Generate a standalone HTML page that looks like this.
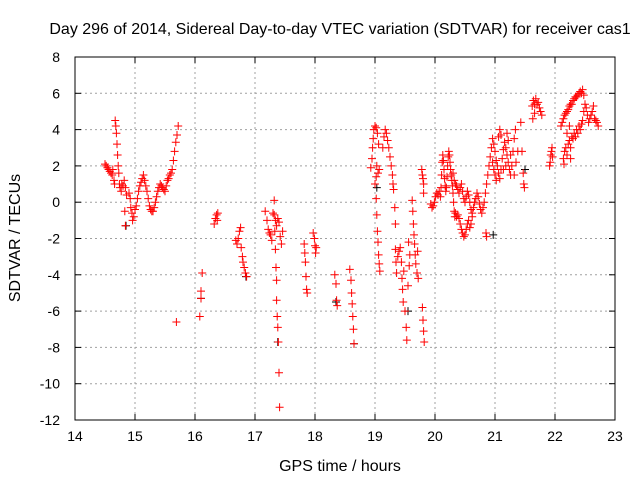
<!DOCTYPE html>
<html><head><meta charset="utf-8"><style>
body{margin:0;background:#fff}
svg{display:block;font-family:"Liberation Sans",sans-serif}
</style></head><body>
<svg id="chart" width="640" height="480">
<rect width="640" height="480" fill="#fff"/>
<text x="340" y="34" text-anchor="middle" font-size="16">Day 296 of 2014, Sidereal Day-to-day VTEC variation (SDTVAR) for receiver cas1</text>
<text x="340" y="471" text-anchor="middle" font-size="16">GPS time / hours</text>
<text transform="translate(20,238) rotate(-90)" text-anchor="middle" font-size="16">SDTVAR / TECUs</text>
<g id="grid"></g><g id="ticks"></g><g id="marks"></g>
<rect x="75" y="57" width="540" height="363" fill="none" stroke="#000" stroke-width="1"/>
</svg>
<script>
const xTicks=[14,15,16,17,18,19,20,21,22,23];
const yTicks=[8,6,4,2,0,-2,-4,-6,-8,-10,-12];
const redT=[14.50,14.52,14.54,14.56,14.58,14.60,14.62,14.63,14.65,14.66,14.67,14.68,14.69,14.70,14.71,14.72,14.73,14.74,14.75,14.77,14.78,14.80,14.82,14.84,14.86,14.83,14.84,14.90,14.92,14.93,14.95,14.96,14.98,15.00,15.02,15.04,15.06,15.08,15.10,15.12,15.14,15.16,15.18,15.20,15.22,15.24,15.26,15.28,15.30,15.32,15.34,15.36,15.38,15.40,15.42,15.44,15.46,15.48,15.50,15.52,15.54,15.56,15.58,15.60,15.62,15.64,15.66,15.68,15.70,15.72,15.69,
16.08,16.10,16.10,16.12,16.32,16.34,16.36,16.37,16.38,
16.68,16.70,16.72,16.74,16.76,16.77,16.79,16.80,16.82,16.84,16.86,
17.17,17.20,17.22,17.24,17.26,17.28,17.30,17.32,17.34,17.36,17.38,17.40,17.42,17.44,17.46,17.32,17.33,17.34,17.35,17.36,17.36,17.37,17.38,17.39,17.40,17.41,
17.82,17.83,17.84,17.85,17.86,17.87,17.97,17.99,18.00,18.01,18.02,
18.33,18.35,18.36,18.37,18.58,18.60,18.61,18.62,18.63,18.64,18.65,
18.93,18.95,18.96,18.97,18.98,19.00,19.02,19.04,19.06,19.03,19.05,19.07,19.02,19.00,19.02,19.03,19.04,19.05,19.06,19.07,19.08,
19.13,19.15,19.17,19.19,19.21,19.23,19.25,19.27,19.29,19.30,19.31,19.33,19.34,19.34,19.35,19.36,
19.38,19.40,19.42,19.44,19.45,19.46,19.47,19.48,19.50,19.52,19.53,19.55,19.57,19.58,19.56,
19.62,19.63,19.64,19.65,19.66,19.67,19.68,19.70,19.71,19.72,
19.78,19.79,19.80,19.81,19.81,19.79,19.80,19.81,19.82,
19.93,19.95,19.97,19.99,20.01,20.03,20.05,20.07,20.09,20.10,20.11,20.12,20.13,20.14,20.15,20.16,20.17,20.18,20.19,20.20,20.21,20.22,20.23,20.24,20.25,20.26,20.27,20.28,20.29,20.30,20.31,20.32,20.33,20.34,20.36,20.38,20.40,20.42,20.44,20.46,20.48,20.50,20.52,20.54,
20.30,20.32,20.34,20.36,20.38,20.40,20.42,20.44,20.46,20.48,20.50,20.52,20.54,20.56,20.58,20.60,20.62,20.56,20.58,20.60,20.62,20.64,20.66,20.68,20.70,20.72,20.74,20.76,20.78,20.80,20.82,20.84,20.86,20.88,20.90,20.92,20.94,20.96,20.98,21.00,21.02,21.04,21.06,21.08,21.10,21.12,21.14,21.16,21.18,21.20,21.22,21.24,21.26,21.28,21.30,21.32,21.34,21.00,21.02,20.98,20.96,21.06,21.08,21.10,21.14,21.18,21.20,21.22,21.26,20.85,20.86,21.32,21.35,21.38,21.43,21.45,21.47,21.48,21.49,
21.62,21.64,21.66,21.68,21.70,21.72,21.74,21.76,21.78,21.66,21.63,
21.91,21.92,21.93,21.94,21.95,21.96,
22.10,22.12,22.14,22.16,22.18,22.20,22.22,22.24,22.26,22.28,22.30,22.32,22.34,22.36,22.38,22.40,22.42,22.44,22.46,22.48,
22.14,22.15,22.16,22.18,22.20,22.22,22.24,22.26,22.28,22.30,22.32,22.34,22.36,22.38,22.40,22.42,22.44,22.46,22.48,22.50,22.52,22.54,22.56,22.58,22.60,22.62,22.64,22.66,22.68,22.70,22.72,22.20,22.24,22.26];
const redV=[2.1,2.0,1.9,1.8,1.7,1.6,1.5,1.8,1.2,1.0,4.5,4.2,3.8,3.2,2.6,2.0,1.6,1.0,0.8,0.6,1.0,0.9,1.2,0.8,0.4,-0.5,-1.3,0.5,0.2,-0.3,-0.6,-1.0,-0.8,-0.4,-0.2,0.2,0.6,0.9,1.1,1.3,1.5,1.2,0.9,0.6,0.2,-0.2,-0.4,-0.5,-0.5,-0.3,0.0,0.3,0.6,0.8,1.0,0.9,0.8,0.7,0.6,0.9,1.2,1.3,1.5,1.6,1.8,2.3,2.8,3.3,3.7,4.2,-6.6,
-6.3,-5.3,-4.9,-3.9,-1.2,-0.9,-0.7,-1.0,-0.6,
-2.1,-2.3,-2.0,-1.6,-1.4,-2.5,-3.0,-3.3,-3.6,-3.9,-4.1,
-0.5,-1.0,-1.5,-1.7,-1.8,-2.1,-0.6,-0.7,-1.0,-1.3,-0.9,-1.1,-1.9,-2.3,-1.6,0.1,-1.6,-2.6,-3.6,-4.3,-5.4,-6.3,-6.9,-7.7,-9.4,-11.3,
-2.3,-2.8,-3.3,-4.1,-4.8,-5.0,-1.7,-2.0,-2.4,-2.8,-2.5,
-4.0,-4.5,-5.4,-5.7,-3.7,-4.3,-5.0,-5.6,-6.3,-7.0,-7.8,
1.9,2.4,3.0,3.5,4.0,4.2,4.1,3.8,3.2,2.0,1.6,1.8,1.4,1.0,0.2,-0.7,-1.6,-2.2,-2.9,-3.4,-3.8,
3.0,3.6,4.0,3.8,3.4,3.0,2.5,2.0,1.5,1.0,0.7,-0.3,-1.2,-2.6,-3.3,-3.9,
-3.0,-2.7,-2.5,-3.3,-4.2,-4.8,-5.5,-3.8,-6.0,-6.9,-7.6,-4.6,-3.5,-2.9,-2.2,
0.1,-0.5,-1.2,-1.8,-2.3,-2.9,-3.4,-3.9,-2.7,-4.2,
1.8,1.5,1.3,1.0,0.5,-5.8,-6.5,-7.1,-7.7,
-0.1,-0.3,-0.2,0.0,0.3,0.5,0.4,0.6,0.3,0.8,1.5,2.2,2.6,2.3,1.8,1.3,0.9,0.6,0.8,1.4,2.0,2.5,2.8,2.6,2.2,1.8,1.5,1.2,0.9,0.5,0.0,-0.5,-0.8,-0.6,-0.8,-0.7,-0.9,-1.2,-1.5,-1.7,-1.9,-1.8,-1.5,-1.2,
1.6,1.2,1.0,0.9,0.7,0.5,0.8,1.0,0.6,0.2,0.0,0.3,0.6,0.4,0.0,-0.4,-0.8,-1.0,-1.4,-1.2,-0.6,-0.3,0.0,0.2,0.5,0.3,-0.1,-0.4,-0.6,-0.3,0.0,0.5,1.0,1.5,2.0,2.5,3.0,3.5,3.2,2.8,2.3,2.0,1.6,1.3,1.8,2.4,2.9,3.3,3.0,2.6,2.2,1.8,1.5,2.0,2.8,3.5,4.0,1.5,1.2,1.8,2.2,3.6,4.0,3.7,1.8,2.0,3.8,3.4,2.6,-1.7,-1.9,1.5,2.2,2.8,4.4,2.8,1.6,1.0,0.8,
5.3,5.6,5.4,5.7,5.4,5.5,5.2,5.0,4.8,4.9,4.6,
2.0,2.2,2.6,2.8,3.0,2.5,
4.2,4.4,4.6,4.8,4.9,5.0,5.1,5.3,5.4,5.4,5.6,5.7,5.8,5.8,5.9,6.0,6.1,6.0,6.2,5.9,
2.4,2.1,2.8,3.0,2.6,3.2,3.4,3.0,3.6,3.5,3.8,3.6,4.0,3.8,4.2,4.0,4.3,4.5,5.0,5.4,5.2,4.8,4.4,4.6,4.8,5.0,5.3,4.6,4.5,4.4,4.2,3.8,4.2,2.4];
const blackT=[14.85,17.38,18.65,19.55,20.97,18.35,16.85,21.50,16.10,19.03];
const blackV=[-1.3,-7.7,-7.8,-6.0,-1.8,-5.5,-4.1,1.8,-5.3,0.8];
const X0=75,X1=615,Y0=420,Y1=57,xmin=14,xmax=23,ymin=-12,ymax=8;
function sx(t){return X0+(t-xmin)/(xmax-xmin)*(X1-X0);}
function sy(v){return Y0-(v-ymin)/(ymax-ymin)*(Y0-Y1);}
const NS='http://www.w3.org/2000/svg';
const grid=document.getElementById('grid'),ticks=document.getElementById('ticks'),marks=document.getElementById('marks');
function mk(tag,attrs,parent){const e=document.createElementNS(NS,tag);for(const k in attrs)e.setAttribute(k,attrs[k]);parent.appendChild(e);return e;}
xTicks.forEach(t=>{const x=sx(t);
 if(t>xmin&&t<xmax){const g=mk('line',{x1:x,x2:x,y1:Y1,y2:Y0,stroke:'#a0a0a0','stroke-dasharray':'2,3'},grid);
 
 }
 mk('line',{x1:x,x2:x,y1:Y0,y2:Y0-6,stroke:'#000'},ticks);
 mk('line',{x1:x,x2:x,y1:Y1,y2:Y1+6,stroke:'#000'},ticks);
 const l=mk('text',{x:x,y:Y0+21,'text-anchor':'middle','font-size':'14'},ticks);l.textContent=t;
 
 });
yTicks.forEach(v=>{const y=sy(v);
 if(v>ymin&&v<ymax){const g=mk('line',{x1:X0,x2:X1,y1:y,y2:y,stroke:'#a0a0a0','stroke-dasharray':'2,3'},grid);
 
 }
 mk('line',{x1:X0,x2:X0+6,y1:y,y2:y,stroke:'#000'},ticks);
 mk('line',{x1:X1,x2:X1-6,y1:y,y2:y,stroke:'#000'},ticks);
 const l=mk('text',{x:X0-15,y:y+5,'text-anchor':'end','font-size':'14'},ticks);l.textContent=v;
 
 });
function cross(t,v,col,name){const x=sx(t),y=sy(v);
 const p=mk('path',{d:`M${x-4},${y}h8M${x},${y-4}v8`,stroke:col,'stroke-width':1,fill:'none'},marks);
 
 }
blackT.forEach((t,i)=>cross(t,blackV[i],'#000','black-point'));
redT.forEach((t,i)=>cross(t,redV[i],'#ff0000','sdtvar-point'));
</script>
</body></html>
